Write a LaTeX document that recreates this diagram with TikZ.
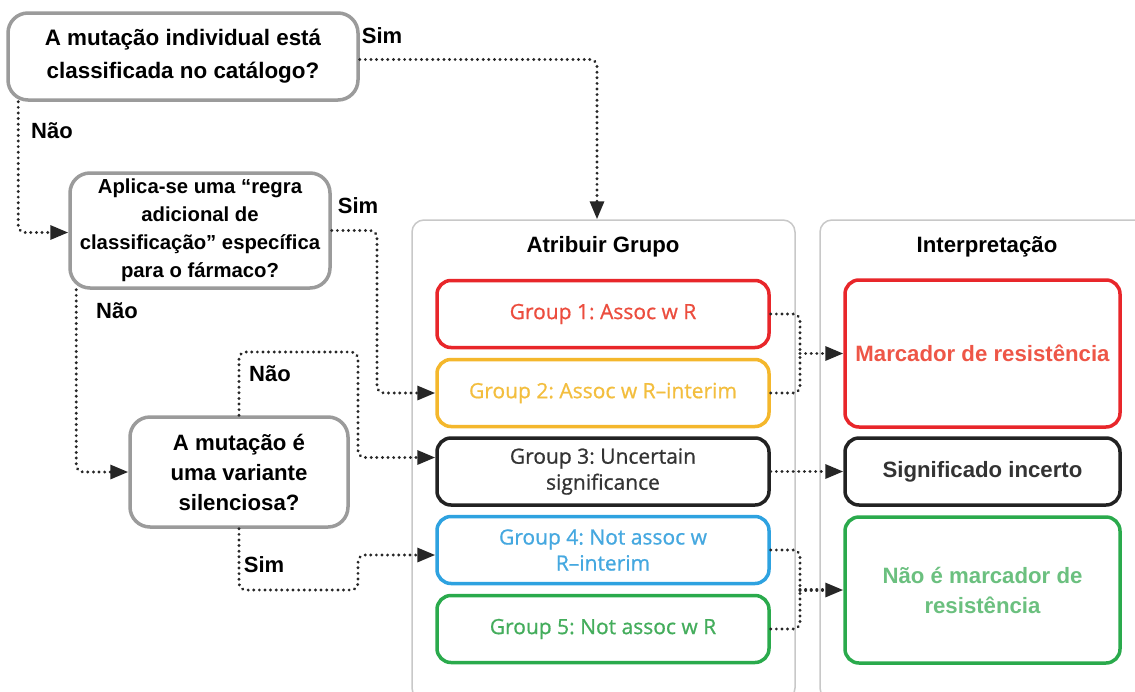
\documentclass[tikz,border=0pt]{standalone}
\usepackage{fontspec}
\setmainfont{Liberation Sans}
\newfontfamily\grpfont[FakeBold=0.8]{Open Sans}
\usetikzlibrary{arrows.meta,calc}
\definecolor{qgray}{HTML}{9B9B9B}
\definecolor{cgray}{HTML}{C8C8C8}
\definecolor{cred}{HTML}{E8262A}
\definecolor{tred}{HTML}{EC4D3E}
\definecolor{cyel}{HTML}{F4B72C}
\definecolor{tyel}{HTML}{F3BE3E}
\definecolor{cblk}{HTML}{222222}
\definecolor{tblk}{HTML}{333333}
\definecolor{cblu}{HTML}{2EA2E0}
\definecolor{tblu}{HTML}{45A8E0}
\definecolor{cgrn}{HTML}{2AAA4C}
\definecolor{tgrn}{HTML}{44AD5C}
\definecolor{igrn}{HTML}{6BC07F}
\definecolor{ired}{HTML}{EE5647}
\definecolor{dotc}{HTML}{262626}
\begin{document}
\frenchspacing
\begin{tikzpicture}[x=1pt,y=-1pt,
  qbox/.style={draw=qgray, line width=3.5pt, rounded corners=20pt, fill=white, align=center, inner sep=0pt},
  container/.style={draw=cgray, line width=1.5pt, rounded corners=12pt, inner sep=0pt},
  grp/.style={line width=3.5pt, rounded corners=14pt, fill=white, align=center, inner sep=0pt,
    minimum width=332pt, minimum height=67pt, font=\grpfont\fontsize{21}{26}\selectfont},
  interp/.style={line width=3.5pt, rounded corners=14pt, fill=white, align=center, inner sep=0pt,
    minimum width=275pt, font=\bfseries\fontsize{22.2}{30}\selectfont},
  lbl/.style={font=\bfseries\fontsize{22}{24}\selectfont, inner sep=0pt},
  ttl/.style={font=\bfseries\fontsize{22.2}{24}\selectfont, inner sep=0pt},
  conn/.style={draw=dotc, line width=3.2pt, dash pattern=on 0.01pt off 5.6pt, line cap=round, rounded corners=7pt},
  arr/.style={-{Triangle[length=18pt,width=14pt,fill=dotc,color=dotc]}}
]
\useasboundingbox (0,0) rectangle (1135,691);
\fill[white] (0,0) rectangle (1135,691);

% containers
\node[container, minimum width=383pt, minimum height=480pt] (boxA) at (603.5,460) {};
\node[container, minimum width=330pt, minimum height=480pt] (boxI) at (985,460) {};
\node[ttl] (tA) at (603,247) {Atribuir Grupo};
\node[ttl] (tI) at (987,247) {Interpretação};

% questions
\node[qbox, minimum width=350pt, minimum height=87pt, font=\bfseries\fontsize{22.4}{33}\selectfont] (q1) at (183,56.5)
  {A mutação individual está\\classificada no catálogo?};
\node[qbox, minimum width=260pt, minimum height=115pt, font=\bfseries\fontsize{20.3}{28}\selectfont] (q2) at (200,230.5)
  {Aplica-se uma “regra\\adicional de\\classificação” específica\\para o fármaco?};
\node[qbox, minimum width=218pt, minimum height=110pt, font=\bfseries\fontsize{22.2}{30}\selectfont] (q3) at (239,472)
  {A mutação é\\uma variante\\silenciosa?};

% groups
\node[grp, draw=cred, text=tred] (g1) at (603,314) {Group 1: Assoc w R};
\node[grp, draw=cyel, text=tyel] (g2) at (603,393) {Group 2: Assoc w R–interim};
\node[grp, draw=cblk, text=tblk] (g3) at (603,471.5) {Group 3: Uncertain\\significance};
\node[grp, draw=cblu, text=tblu] (g4) at (603,550) {Group 4: Not assoc w\\R–interim};
\node[grp, draw=cgrn, text=tgrn] (g5) at (603,629) {Group 5: Not assoc w R};

% interpretations
\node[interp, draw=cred, text=ired, minimum height=147pt] (i1) at (982.5,353.5) {Marcador de resistência};
\node[interp, draw=cblk, text=tblk, minimum height=67pt] (i2) at (982.5,471.5) {Significado incerto};
\node[interp, draw=cgrn, text=igrn, minimum height=146pt] (i3) at (982.5,590) {Não é marcador de\\resistência};

% labels
\node[lbl] (l1) at (382,36) {Sim};
\node[lbl] (l2) at (52,131) {Não};
\node[lbl] (l3) at (358,206) {Sim};
\node[lbl] (l4) at (117,311) {Não};
\node[lbl] (l5) at (270,374) {Não};
\node[lbl] (l6) at (264,565) {Sim};

% helper coordinates
\coordinate (c1) at (597,60);
\coordinate (c2) at (377,0);
\coordinate (n3) at (358,352);
\coordinate (s3) at (358,590);
\coordinate (j1) at (800,353.5);
\coordinate (j2) at (800,590);

% connectors
\draw[conn, arr] ($(q1.east)+(0,3)$) -| (c1 |- boxA.north);
\draw[conn, arr] ($(q1.south west)+(12,0)$) |- ($(q2.west)+(0,2)$);
\draw[conn, arr] (q2.east) -| (c2 |- g2.west) -- (g2.west);
\draw[conn, arr] ($(q2.south west)+(8,0)$) |- (q3.west);
\draw[conn, arr] (q3.north) |- (n3) |- ($(g3.west)+(0,-14)$);
\draw[conn, arr] (q3.south) |- (s3) |- ($(g4.west)+(0,5)$);
\draw[conn] (g1.east) -| (j1);
\draw[conn] (g2.east) -| (j1);
\draw[conn, arr] (j1) -- (i1.west);
\draw[conn, arr] (g3.east) -- (i2.west);
\draw[conn] (g4.east) -| (j2);
\draw[conn] (g5.east) -| (j2);
\draw[conn, arr] (j2) -- (i3.west);
\end{tikzpicture}
\end{document}
